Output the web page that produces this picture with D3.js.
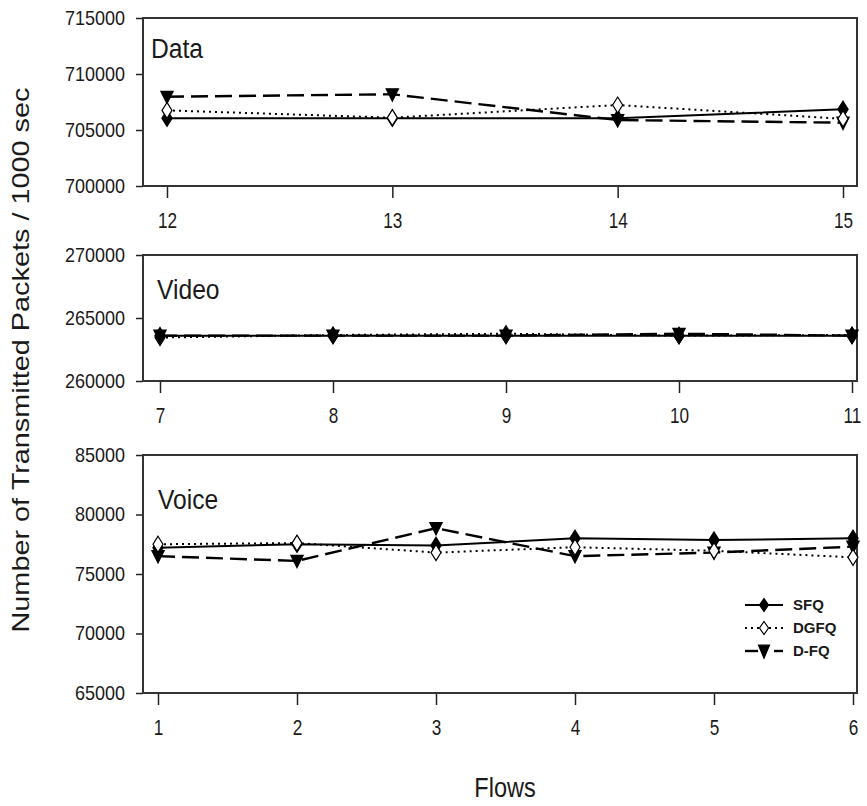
<!DOCTYPE html>
<html>
<head>
<meta charset="utf-8">
<script src="https://cdn.jsdelivr.net/npm/d3@7"></script>
<style>
  html, body { margin: 0; padding: 0; background: #fff; }
  svg { display: block; }
  text { font-family: Arial, "Liberation Sans", sans-serif; fill: #1a1a1a; }
</style>
</head>
<body>
<svg id="chart" width="867" height="806"></svg>
<script>
// ---------------- DATA ----------------
const seriesNames = ["SFQ", "DGFQ", "D-FQ"];

// Data traffic panel
const dataFlows = [12, 13, 14, 15];
const dataSFQ  = [706050, 706050, 706050, 706850];
const dataDGFQ = [706750, 706100, 707230, 706000];
const dataDFQ  = [707970, 708190, 705890, 705650];
const dataTicks = [700000, 705000, 710000, 715000];

// Video traffic panel
const videoFlows = [7, 8, 9, 10, 11];
const videoSFQ  = [263600, 263600, 263600, 263600, 263600];
const videoDGFQ = [263450, 263650, 263750, 263600, 263650];
const videoDFQ  = [263600, 263600, 263600, 263750, 263600];
const videoTicks = [260000, 265000, 270000];

// Voice traffic panel
const voiceFlows = [1, 2, 3, 4, 5, 6];
const voiceSFQ  = [77200, 77500, 77400, 78000, 77850, 78000];
const voiceDGFQ = [77500, 77600, 76800, 77250, 76950, 76400];
const voiceDFQ  = [76500, 76100, 78850, 76500, 76800, 77300];
const voiceTicks = [65000, 70000, 75000, 80000, 85000];

const panelTitles = ["Data", "Video", "Voice"];
const xTitle = "Flows";
const yTitle = "Number of Transmitted Packets / 1000 sec";

// ---------------- LAYOUT ----------------
const svg = d3.select("#chart");
const frameLeft = 143, frameRight = 857;

const panels = [
  { title: panelTitles[0], flows: dataFlows, vals: [dataSFQ, dataDGFQ, dataDFQ],
    ticks: dataTicks, top: 18, bottom: 186, xr: [167, 843], titlePos: [151, 58], markerOrder: [2, 0, 1] },
  { title: panelTitles[1], flows: videoFlows, vals: [videoSFQ, videoDGFQ, videoDFQ],
    ticks: videoTicks, top: 255, bottom: 381, xr: [160, 852], titlePos: [157, 299], markerOrder: [1, 2, 0] },
  { title: panelTitles[2], flows: voiceFlows, vals: [voiceSFQ, voiceDGFQ, voiceDFQ],
    ticks: voiceTicks, top: 455, bottom: 693, xr: [158, 853], titlePos: [158, 509], markerOrder: [2, 0, 1] }
];

function squeeze(sel, sx) {
  sel.each(function () {
    const t = d3.select(this);
    const x = +(t.attr("x") || 0);
    t.attr("x", x / sx).attr("transform", `scale(${sx},1)`);
  });
}

// Marker shapes
function diamondPath(w, h) {
  return `M0,${-h/2}L${w/2},0L0,${h/2}L${-w/2},0Z`;
}
function triPath(w, h) {
  return `M${-w/2},${-h*0.45}L${w/2},${-h*0.45}L0,${h*0.55}Z`;
}

const styles = {
  "SFQ":  { dash: null,   width: 2,   marker: diamondPath(10, 16), fill: "#000", stroke: "#000", sw: 1.4 },
  "DGFQ": { dash: "2,4",  width: 2,   marker: diamondPath(10, 16), fill: "#fff", stroke: "#000", sw: 1.2 },
  "D-FQ": { dash: "17,7", width: 2.4, marker: triPath(12, 12),     fill: "#000", stroke: "#000", sw: 1.4 }
};

panels.forEach(p => {
  const x = d3.scaleLinear().domain([p.flows[0], p.flows[p.flows.length - 1]]).range(p.xr);
  const y = d3.scaleLinear().domain([p.ticks[0], p.ticks[p.ticks.length - 1]]).range([p.bottom, p.top]);
  const g = svg.append("g");

  // Y axis
  const ya = g.append("g").attr("transform", `translate(${frameLeft},0)`)
    .call(d3.axisLeft(y).tickValues(p.ticks).tickFormat(d3.format("d")).tickSize(7).tickPadding(11));
  ya.select(".domain").remove();
  ya.selectAll("line").attr("stroke", "#222").attr("stroke-width", 1.5);
  ya.selectAll("text").style("font-size", "20px").attr("fill", "#1a1a1a");
  squeeze(ya.selectAll("text"), 0.9);

  // X axis
  const xa = g.append("g").attr("transform", `translate(0,${p.bottom})`)
    .call(d3.axisBottom(x).tickValues(p.flows).tickFormat(d3.format("d")).tickSize(12).tickPadding(14));
  xa.select(".domain").remove();
  xa.selectAll("line").attr("stroke", "#222").attr("stroke-width", 1.5);
  xa.selectAll("text").style("font-size", "22px").attr("fill", "#1a1a1a");
  squeeze(xa.selectAll("text"), 0.78);

  // Frame
  g.append("rect")
    .attr("x", frameLeft).attr("y", p.top)
    .attr("width", frameRight - frameLeft).attr("height", p.bottom - p.top)
    .attr("fill", "none").attr("stroke", "#333").attr("stroke-width", 2);

  // Panel title
  const tt = g.append("text").attr("x", p.titlePos[0]).attr("y", p.titlePos[1])
    .style("font-size", "28px").text(p.title);
  squeeze(tt, 0.88);

  // Lines (draw order: D-FQ, DGFQ, SFQ)
  const line = d3.line().x((d, i) => x(p.flows[i])).y(d => y(d));
  [2, 1, 0].forEach(si => {
    const st = styles[seriesNames[si]];
    g.append("path").datum(p.vals[si])
      .attr("d", line)
      .attr("fill", "none")
      .attr("stroke", "#000")
      .attr("stroke-width", st.width)
      .attr("stroke-dasharray", st.dash);
  });
  // Markers
  p.markerOrder.forEach(si => {
    const st = styles[seriesNames[si]];
    g.append("g").selectAll("path").data(p.vals[si]).join("path")
      .attr("transform", (d, i) => `translate(${x(p.flows[i])},${y(d)})`)
      .attr("d", st.marker)
      .attr("fill", st.fill)
      .attr("stroke", st.stroke)
      .attr("stroke-width", st.sw);
  });
});

// Legend (inside Voice panel)
const legendX = 745, legendRows = [605, 628, 651];
seriesNames.forEach((name, i) => {
  const st = styles[name];
  const lg = svg.append("g").attr("transform", `translate(${legendX},${legendRows[i]})`);
  if (name === "D-FQ") {
    lg.append("line").attr("x1", 0).attr("x2", 13).attr("stroke", "#000").attr("stroke-width", 2.4);
    lg.append("line").attr("x1", 29).attr("x2", 38).attr("stroke", "#000").attr("stroke-width", 2.4);
  } else {
    lg.append("line").attr("x1", 0).attr("x2", 38).attr("stroke", "#000")
      .attr("stroke-width", st.width).attr("stroke-dasharray", name === "DGFQ" ? "2,4" : null);
  }
  lg.append("path").attr("transform", "translate(19,0)")
    .attr("d", name === "D-FQ" ? triPath(11, 13) : diamondPath(9, 13))
    .attr("fill", st.fill).attr("stroke", "#000").attr("stroke-width", 1.2);
  lg.append("text").attr("x", 48).attr("y", 0).attr("dy", "0.36em")
    .style("font-size", "15px").style("font-weight", "bold").text(name);
});

// Axis titles
const xt = svg.append("text").attr("x", 505).attr("y", 797)
  .attr("text-anchor", "middle").style("font-size", "27px").text(xTitle);
squeeze(xt, 0.87);

svg.append("text")
  .attr("transform", "translate(29,360) rotate(-90)")
  .attr("text-anchor", "middle")
  .style("font-size", "24px")
  .attr("textLength", 545).attr("lengthAdjust", "spacingAndGlyphs")
  .text(yTitle);
</script>
</body>
</html>
